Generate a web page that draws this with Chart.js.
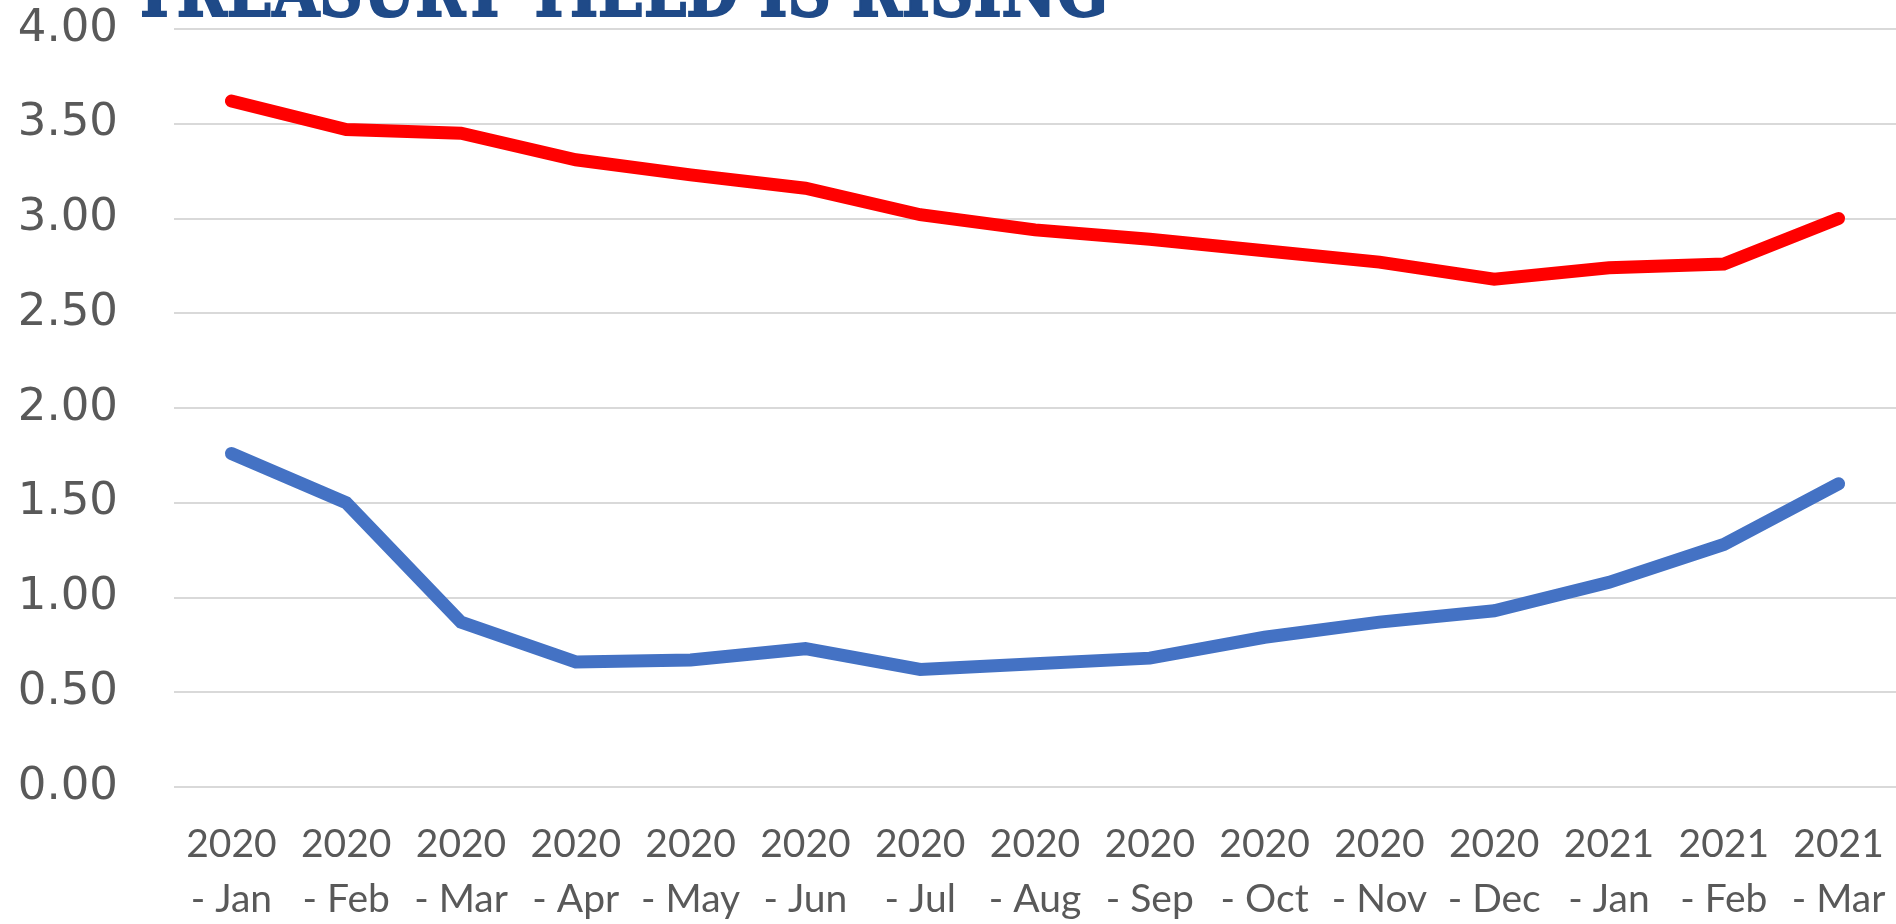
<!DOCTYPE html>
<html>
<head>
<meta charset="utf-8">
<script src="https://cdn.jsdelivr.net/npm/chart.js@4"></script>
<style>
  html, body { margin: 0; padding: 0; background: #fff; overflow: hidden; }
  #wrap { position: relative; width: 1896px; height: 924px; }
  #title {
    position: absolute; left: 132px; top: -45px;
    font-family: "DejaVu Serif Condensed", "DejaVu Serif", serif;
    font-weight: bold; font-size: 72px; line-height: 72px;
    color: #1f4a88; -webkit-text-stroke: 2px #1f4a88;
    white-space: nowrap; transform-origin: 0 0;
    z-index: 2;
  }
</style>
</head>
<body>
<div id="wrap">
  <div id="title">TREASURY YIELD IS RISING</div>
  <canvas id="chart"></canvas>
</div>
<script>
// Data
const months = [
  ["2020", "- Jan"], ["2020", "- Feb"], ["2020", "- Mar"], ["2020", "- Apr"], ["2020", "- May"],
  ["2020", "- Jun"], ["2020", "- Jul"], ["2020", "- Aug"], ["2020", "- Sep"], ["2020", "- Oct"],
  ["2020", "- Nov"], ["2020", "- Dec"], ["2021", "- Jan"], ["2021", "- Feb"], ["2021", "- Mar"]
];
const mortgageRate = [3.62, 3.47, 3.45, 3.31, 3.23, 3.16, 3.02, 2.94, 2.89, 2.83, 2.77, 2.68, 2.74, 2.76, 3.00];
const treasuryYield = [1.76, 1.50, 0.87, 0.66, 0.67, 0.73, 0.62, 0.65, 0.68, 0.79, 0.87, 0.93, 1.08, 1.28, 1.60];
const yMin = 0, yMax = 4, yStep = 0.5;

// stretch the title to the width it has in the picture
const title = document.getElementById("title");
title.style.transform = `scaleX(${976 / title.offsetWidth})`;

const canvas = document.getElementById("chart");
canvas.style.width = "1896px";
canvas.style.height = "924px";

new Chart(canvas.getContext("2d"), {
  type: "line",
  data: {
    labels: months,
    datasets: [
      {
        label: "30-Year Mortgage Rate",
        data: mortgageRate,
        borderColor: "#ff0000",
        backgroundColor: "#ff0000",
        borderWidth: 13,
        borderCapStyle: "round",
        pointRadius: 0,
        tension: 0
      },
      {
        label: "10-Year Treasury Yield",
        data: treasuryYield,
        borderColor: "#4472c4",
        backgroundColor: "#4472c4",
        borderWidth: 13,
        borderCapStyle: "round",
        pointRadius: 0,
        tension: 0
      }
    ]
  },
  options: {
    responsive: true,
    maintainAspectRatio: false,
    animation: false,
    layout: { padding: { top: 29, left: 0, right: 0, bottom: 0 } },
    plugins: {
      legend: { display: false },
      tooltip: { enabled: false }
    },
    scales: {
      x: {
        offset: true,
        grid: { display: false, drawTicks: false },
        border: { display: false },
        ticks: {
          color: "#595959",
          font: { family: "Lato", size: 39, lineHeight: 1.41 },
          padding: 30,
          maxRotation: 0,
          autoSkip: false
        },
        afterFit: s => {
          s.height = 137;
          s.paddingLeft = 0;
          s.paddingRight = 0;
        }
      },
      y: {
        min: yMin,
        max: yMax,
        grid: { color: "#d9d9d9", lineWidth: 2, drawTicks: false },
        border: { display: false },
        ticks: {
          stepSize: yStep,
          color: "#595959",
          font: { family: "DejaVu Sans", size: 45 },
          padding: 56,
          callback: v => v.toFixed(2)
        },
        afterFit: s => {
          s.width = 174;
          s.paddingTop = 0;
          s.paddingBottom = 0;
        }
      }
    }
  }
});
</script>
</body>
</html>
